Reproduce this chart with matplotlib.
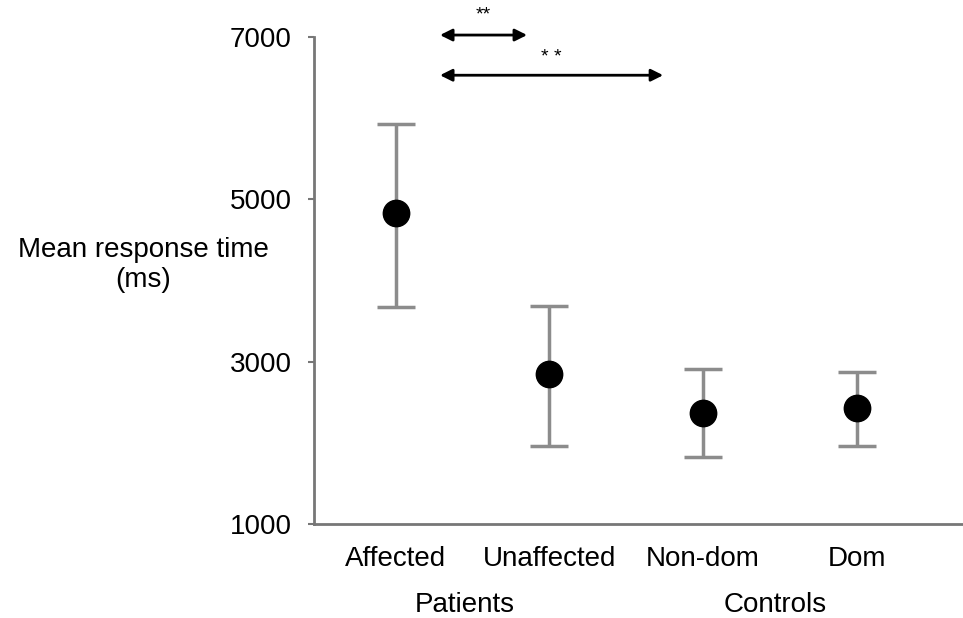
import matplotlib
matplotlib.use('Agg')

import matplotlib.pyplot as plt

plt.rcParams['font.family'] = ['Liberation Sans', 'DejaVu Sans']

# data
conditions = ["Affected", "Unaffected", "Non-dom", "Dom"]
means = [4830, 2850, 2370, 2430]
upper = [5930, 3690, 2910, 2870]
lower = [3670, 1960, 1830, 1960]
groups = ["Patients", "Controls"]
group_pos = [0.45, 2.47]
y_ticks = [1000, 3000, 5000, 7000]

xs = list(range(len(conditions)))
err_lo = [m - l for m, l in zip(means, lower)]
err_hi = [u - m for m, u in zip(means, upper)]

fig = plt.figure(figsize=(9.63, 6.18), dpi=100)
ax = fig.add_axes([0.326, 0.152, 0.674, 0.788])

ax.errorbar(xs, means, yerr=[err_lo, err_hi], fmt='o', color='black',
            markersize=19, ecolor='#8c8c8c', elinewidth=2.5, capsize=14,
            capthick=2.5, zorder=3)

ax.set_xlim(-0.531, 3.69)
ax.set_ylim(1000, 7000)
ax.set_yticks(y_ticks)
ax.set_xticks(xs)
ax.set_xticklabels(conditions)
ax.tick_params(axis='x', length=0, labelsize=20, pad=16)
ax.tick_params(axis='y', length=4, width=1.5, color='#777777', labelsize=20, pad=12)

for s in ["top", "right"]:
    ax.spines[s].set_visible(False)
for s in ["left", "bottom"]:
    ax.spines[s].set_color('#777777')
    ax.spines[s].set_linewidth(2)

ax.set_ylabel("Mean response time\n(ms)", rotation=0, fontsize=20,
              ha='center', va='center', labelpad=0)
ax.yaxis.set_label_coords(-0.263, 0.532)

# group labels under the tick labels
for g, gx in zip(groups, group_pos):
    ax.text(gx, -0.166, g, transform=ax.get_xaxis_transform(),
            ha='center', va='center', fontsize=20)

# significance arrows
arrows = [(0.289, 0.855, 7025, "**", 7270), (0.289, 1.74, 6530, "* *", 6750)]
for x0, x1, y, label, ys in arrows:
    ax.annotate("", xy=(x1, y), xytext=(x0, y), annotation_clip=False,
                arrowprops=dict(arrowstyle='<|-|>', color='black', lw=2,
                                mutation_scale=18, shrinkA=0, shrinkB=0))
    ax.text((x0 + x1) / 2, ys, label, ha='center', va='center',
            fontsize=14, clip_on=False)

fig.savefig("out.png", dpi=100)
